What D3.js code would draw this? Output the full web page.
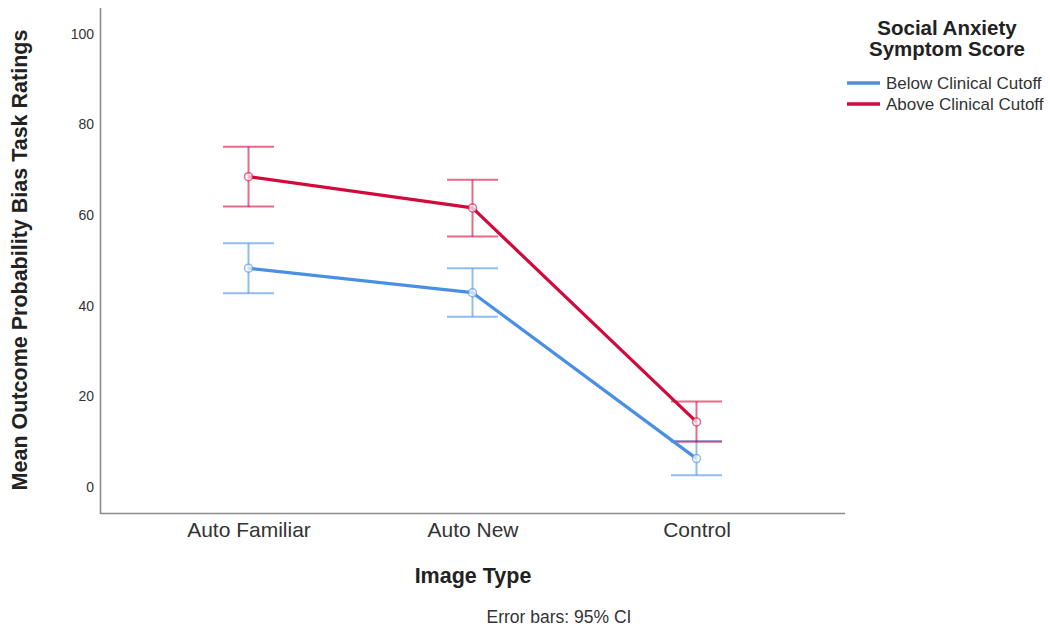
<!DOCTYPE html>
<html><head><meta charset="utf-8">
<script src="https://cdn.jsdelivr.net/npm/d3@7"></script>
<style>body{margin:0;background:#fff;} svg{display:block;font-family:"Liberation Sans",Arial,sans-serif;}</style>
</head><body>
<svg id="c" width="1050" height="629"></svg>
<script>
const categories = ["Auto Familiar", "Auto New", "Control"];
const seriesNames = ["Below Clinical Cutoff", "Above Clinical Cutoff"];
const belowMean = [48.3, 42.9, 6.3];
const belowLow = [42.8, 37.6, 2.6];
const belowHigh = [53.8, 48.3, 10.2];
const aboveMean = [68.5, 61.6, 14.4];
const aboveLow = [61.9, 55.3, 10.0];
const aboveHigh = [75.1, 67.8, 18.9];
const yTicks = [0, 20, 40, 60, 80, 100];
const colors = ["#4a90e2", "#d2093c"];

const series = [
  {name: seriesNames[0], mean: belowMean, lo: belowLow, hi: belowHigh, color: colors[0]},
  {name: seriesNames[1], mean: aboveMean, lo: aboveLow, hi: aboveHigh, color: colors[1]}
];

const svg = d3.select("#c");
const x = d3.scalePoint().domain(categories).range([100, 845]).padding(0.663);
const y = d3.scaleLinear().domain([-5.7, 105.7]).range([513, 8]);

// axes
const yAxis = d3.axisLeft(y).tickValues(yTicks).tickSize(0).tickPadding(6);
const gy = svg.append("g").attr("transform", "translate(100,0)").call(yAxis);
gy.select(".domain").remove();
gy.selectAll("text").attr("font-size", 14).attr("fill", "#333").attr("font-family", "Liberation Sans, Arial, sans-serif");

const xAxis = d3.axisBottom(x).tickSize(0).tickPadding(9);
const gx = svg.append("g").attr("transform", "translate(0,513)").call(xAxis);
gx.select(".domain").remove();
gx.selectAll("text").attr("font-size", 21).attr("fill", "#333").attr("font-family", "Liberation Sans, Arial, sans-serif");

svg.append("path").attr("d", `M100.5,8 V513.5 H845`).attr("fill", "none").attr("stroke", "#8c8c8c").attr("stroke-width", 1.6);

// error bars
const capW = 25.5;
series.forEach(s => {
  const g = svg.append("g").attr("stroke", s.color).attr("stroke-opacity", 0.6).attr("stroke-width", 2).attr("fill", "none");
  categories.forEach((c, i) => {
    const cx = x(c);
    g.append("line").attr("x1", cx).attr("x2", cx).attr("y1", y(s.lo[i])).attr("y2", y(s.hi[i]));
    g.append("line").attr("x1", cx - capW).attr("x2", cx + capW).attr("y1", y(s.lo[i])).attr("y2", y(s.lo[i]));
    g.append("line").attr("x1", cx - capW).attr("x2", cx + capW).attr("y1", y(s.hi[i])).attr("y2", y(s.hi[i]));
  });
});

// lines and markers
const line = d3.line().x((d, i) => x(categories[i])).y(d => y(d));
series.forEach(s => {
  svg.append("path").datum(s.mean).attr("d", line).attr("fill", "none").attr("stroke", s.color).attr("stroke-width", 3.2).attr("stroke-linejoin", "round");
  svg.append("g").selectAll("circle").data(s.mean).join("circle")
    .attr("cx", (d, i) => x(categories[i])).attr("cy", d => y(d)).attr("r", 4)
    .attr("fill", "#fff").attr("fill-opacity", 0.7).attr("stroke", s.color).attr("stroke-opacity", 0.6).attr("stroke-width", 1.5);
});

// titles
svg.append("text").attr("transform", "translate(27,260) rotate(-90)").attr("text-anchor", "middle")
  .attr("font-size", 21.5).attr("font-weight", "bold").attr("fill", "#222").text("Mean Outcome Probability Bias Task Ratings");
svg.append("text").attr("x", 473).attr("y", 583).attr("text-anchor", "middle")
  .attr("font-size", 21.5).attr("font-weight", "bold").attr("fill", "#222").text("Image Type");
svg.append("text").attr("x", 559).attr("y", 623).attr("text-anchor", "middle")
  .attr("font-size", 17.5).attr("fill", "#333").text("Error bars: 95% CI");

// legend
svg.append("text").attr("x", 947).attr("y", 35).attr("text-anchor", "middle")
  .attr("font-size", 20.5).attr("font-weight", "bold").attr("fill", "#222").text("Social Anxiety");
svg.append("text").attr("x", 947).attr("y", 56).attr("text-anchor", "middle")
  .attr("font-size", 20.5).attr("font-weight", "bold").attr("fill", "#222").text("Symptom Score");
series.forEach((s, i) => {
  const ly = 83 + i * 21;
  svg.append("line").attr("x1", 847).attr("x2", 880).attr("y1", ly).attr("y2", ly).attr("stroke", s.color).attr("stroke-width", 3.5);
  svg.append("text").attr("x", 886).attr("y", ly + 6).attr("font-size", 17).attr("fill", "#333").text(s.name);
});
</script>
</body></html>
